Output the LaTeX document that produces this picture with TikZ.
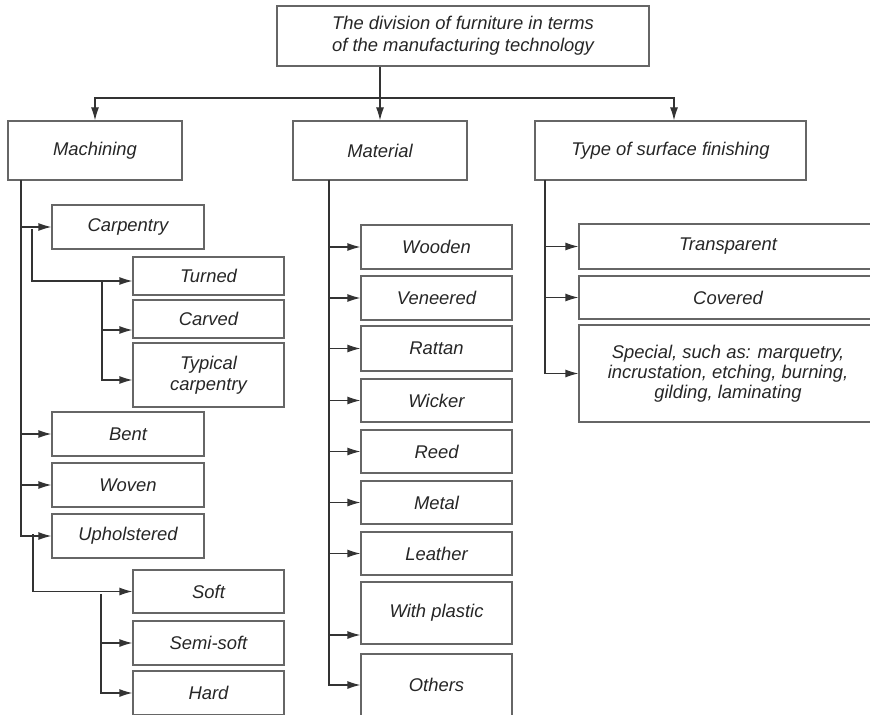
\documentclass[tikz,border=0pt]{standalone}
\usepackage{fontspec}
\setmainfont{Liberation Sans}
\usepackage{tikz}
\usetikzlibrary{shapes, arrows.meta, positioning, arrows}

\begin{document}
\begin{tikzpicture}[x=0.5pt, y=-0.5pt]
    \tikzstyle{box} = [draw=black!60, line width=0.6pt, inner sep=1pt, align=center, text=black!85, font=\fontsize{9.2}{10.4}\selectfont\itshape];
    \tikzstyle{connector} = [draw=black!80, line width=0.6pt, -{Latex[length=6.5pt, width=4pt]}];
    \useasboundingbox (0,0) rectangle (870,715);
    \clip (0,0) rectangle (870,715);
    \node[box, minimum width=186pt, minimum height=30pt, font=\fontsize{9.2}{10.9}\selectfont\itshape] at (463,36) (division) {The division of furniture in terms\\of the manufacturing technology};
    \node[box, minimum width=87pt, minimum height=29.5pt] at (95,150.5) (machining) {Machining};
    \node[box, minimum width=87pt, minimum height=29.5pt] at (380,150.5) (material) {Material};
    \node[box, minimum width=135.5pt, minimum height=29.5pt] at (670.5,150.5) (surface) {Type of surface finishing};
    \node[box, minimum width=76pt, minimum height=22pt] at (128,227) (carpentry) {Carpentry};
    \node[box, minimum width=75.5pt, minimum height=19pt] at (208.5,276) (turned) {Turned};
    \node[box, minimum width=75.5pt, minimum height=19pt] at (208.5,319) (carved) {Carved};
    \node[box, minimum width=75.5pt, minimum height=32pt] at (208.5,375) (typical) {Typical\\carpentry};
    \node[box, minimum width=76pt, minimum height=22pt] at (128,434) (bent) {Bent};
    \node[box, minimum width=76pt, minimum height=22pt] at (128,485) (woven) {Woven};
    \node[box, minimum width=76pt, minimum height=22pt] at (128,536) (upholstered) {Upholstered};
    \node[box, minimum width=75.5pt, minimum height=21.5pt] at (208.5,591.5) (soft) {Soft};
    \node[box, minimum width=75.5pt, minimum height=22pt] at (208.5,643) (semisoft) {Semi-soft};
    \node[box, minimum width=75.5pt, minimum height=22pt] at (208.5,693) (hard) {Hard};
    \node[box, minimum width=75.5pt, minimum height=22pt] at (436.5,247) (wooden) {Wooden};
    \node[box, minimum width=75.5pt, minimum height=22pt] at (436.5,298) (veneered) {Veneered};
    \node[box, minimum width=75.5pt, minimum height=22.5pt] at (436.5,348.5) (rattan) {Rattan};
    \node[box, minimum width=75.5pt, minimum height=21.5pt] at (436.5,400.5) (wicker) {Wicker};
    \node[box, minimum width=75.5pt, minimum height=21.5pt] at (436.5,451.5) (reed) {Reed};
    \node[box, minimum width=75.5pt, minimum height=21.5pt] at (436.5,502.5) (metal) {Metal};
    \node[box, minimum width=75.5pt, minimum height=21.5pt] at (436.5,553.5) (leather) {Leather};
    \node[box, minimum width=75.5pt, minimum height=31pt] at (436.5,613) (plastic) {With plastic};
    \node[box, minimum width=75.5pt, minimum height=31pt] at (436.5,685) (others) {Others};
    \node[box, minimum width=149pt, minimum height=22.5pt] at (728,246.5) (transparent) {Transparent};
    \node[box, minimum width=149pt, minimum height=21.5pt] at (728,297.5) (covered) {Covered};
    \node[box, minimum width=149pt, minimum height=48.5pt, font=\fontsize{9.2}{9.9}\selectfont\itshape] at (728,373.5) (special) {Special, such as: marquetry,\\incrustation, etching, burning,\\gilding, laminating};
    \coordinate (bus) at (380,98);
    \coordinate (mtrunk) at (21,180);
    \coordinate (ctrunk) at (32,229);
    \coordinate (ttrunk) at (102,281);
    \coordinate (utrunk) at (33,534);
    \coordinate (strunk) at (101,594);
    \coordinate (atrunk) at (329,180);
    \coordinate (ftrunk) at (545,180);
    \coordinate (turnedin) at ([yshift=-2.5pt]turned.west);
    \coordinate (carvedin) at ([yshift=-5.5pt]carved.west);
    \coordinate (typicalin) at ([yshift=-2.5pt]typical.west);
    \coordinate (plasticin) at ([yshift=-11pt]plastic.west);
    \path[connector] (division.south -| material.north) -- (material.north);
    \path[connector] (bus) -| (machining.north);
    \path[connector] (bus) -| ([xshift=1.75pt]surface.north);
    \path[connector] (mtrunk) |- (upholstered.west);
    \foreach \n in {carpentry, bent, woven}
        \path[connector] (mtrunk |- \n.west) -- (\n.west);
    \path[connector] (ctrunk) |- (turnedin);
    \path[connector] (ttrunk) |- (typicalin);
    \path[connector] (ttrunk |- carvedin) -- (carvedin);
    \path[connector] (utrunk) |- (soft.west);
    \path[connector] (strunk) |- (hard.west);
    \path[connector] (strunk |- semisoft.west) -- (semisoft.west);
    \path[connector] (atrunk) |- (others.west);
    \foreach \n in {wooden, veneered, rattan, wicker, reed, metal, leather}
        \path[connector] (atrunk |- \n.west) -- (\n.west);
    \path[connector] (atrunk |- plasticin) -- (plasticin);
    \path[connector] (ftrunk) |- (special.west);
    \foreach \n in {transparent, covered}
        \path[connector] (ftrunk |- \n.west) -- (\n.west);
\end{tikzpicture}
\end{document}
